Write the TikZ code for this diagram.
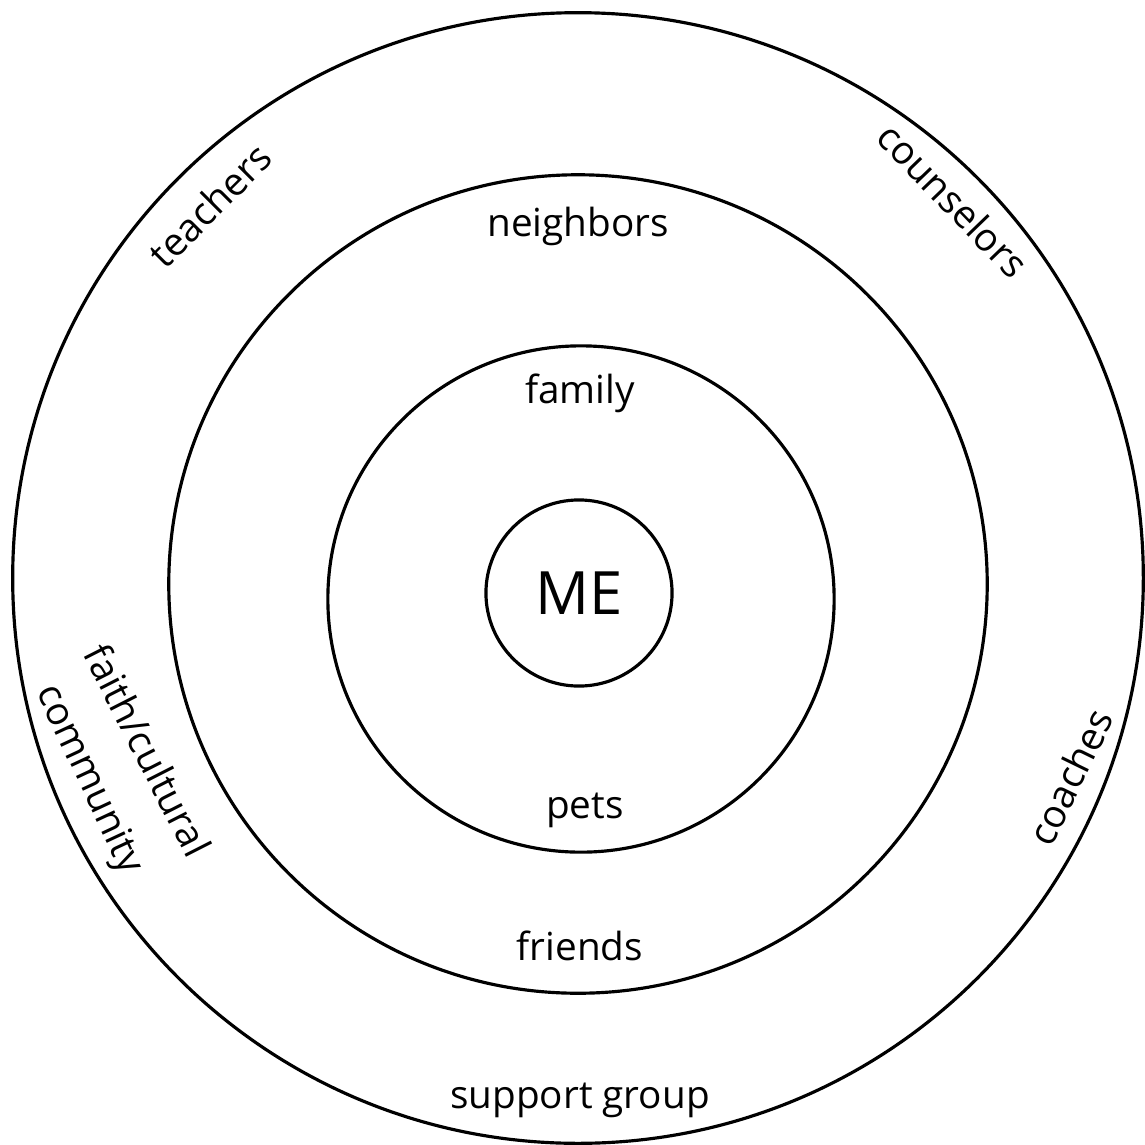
\documentclass[tikz,border=0pt]{standalone}
\usepackage{fontspec}
\setmainfont{Open Sans}
\usetikzlibrary{positioning}

\tikzset{
  ring/.style={draw, circle, line width=0.9pt, inner sep=0pt},
  lbl/.style={font=\fontsize{11}{13}\selectfont, inner sep=1pt},
}

\begin{document}
\begin{tikzpicture}[x=0.01cm, y=-0.01cm]

\useasboundingbox (0,0) rectangle (1144,1145);

% circles
\node[ring, minimum size=11.30cm] (outer) at (578,578) {};
\node[ring, minimum size=8.18cm] (second) at (578,584) {};
\node[ring, minimum size=5.06cm] (third) at (581,599) {};
\node[ring, minimum size=1.86cm, font=\fontsize{17}{20}\selectfont] (me) at (579,593) {ME};

% inner labels
\node[lbl] (family) at (580,393) {family};
\node[lbl] (pets) at (585,810) {pets};

% middle labels
\node[lbl] (neighbors) at (578,226) {neighbors};
\node[lbl] (friends) at (580,946) {friends};
\node[lbl, rotate=-63] (faith) at (148,750) {faith/cultural};
\node[lbl, rotate=-65] (community) at (88,780) {community};

% outer labels
\node[lbl, rotate=45] (teachers) at (210,205) {teachers};
\node[lbl, rotate=-46] (counselors) at (953,200) {counselors};
\node[lbl, rotate=64] (coaches) at (1070,777) {coaches};
\node[lbl] (support) at (580,1100) {support group};

\end{tikzpicture}
\end{document}
